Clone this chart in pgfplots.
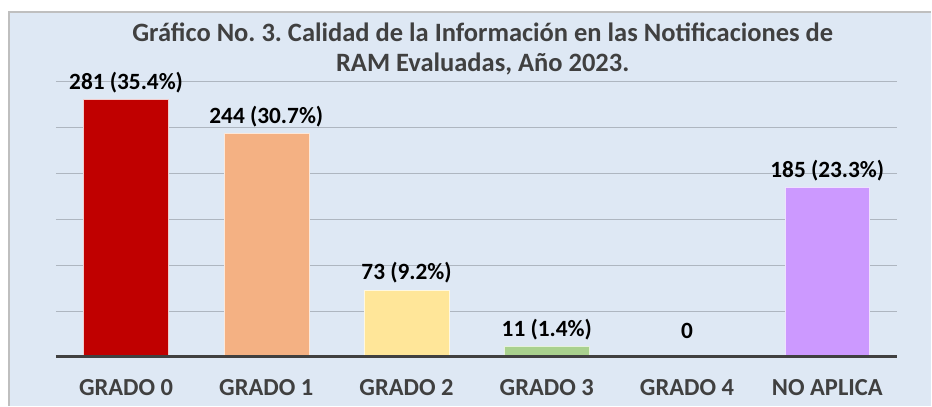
\documentclass[border=0pt]{standalone}
\usepackage{pgfplots}
\pgfplotsset{compat=1.18}
\usepackage{fontspec}
\setmainfont{Carlito}
\frenchspacing
\definecolor{bg}{HTML}{DEE8F4}
\definecolor{bordc}{HTML}{BFBFBF}
\definecolor{gridc}{HTML}{AEB6C0}
\definecolor{axisc}{HTML}{404040}
\definecolor{labc}{HTML}{404040}
\definecolor{c0}{HTML}{C00000}
\definecolor{c1}{HTML}{F4B183}
\definecolor{c2}{HTML}{FFE699}
\definecolor{c3}{HTML}{A9D18E}
\definecolor{c5}{HTML}{CC99FF}
\begin{document}
\begin{tikzpicture}[x=1pt,y=1pt]
\fill[white] (0,0) rectangle (932,406);
\fill[bg] (9,0) rectangle (932,394);
\draw[bordc, line width=1.2pt] (9,0) -- (9,394) -- (932,394);
\node[font=\fontsize{26.5}{30}\selectfont\bfseries, text=labc, anchor=base] at (483,364) {Gráfico No. 3. Calidad de la Información en las Notificaciones de};
\node[font=\fontsize{26.5}{30}\selectfont\bfseries, text=labc, anchor=base] at (483,334) {RAM Evaluadas, Año 2023.};
\begin{axis}[
  at={(56pt,49pt)}, anchor=south west,
  scale only axis, width=842pt, height=275pt,
  xmin=-0.5, xmax=5.5, ymin=0, ymax=300,
  xtick={0,1,2,3,4,5},
  xticklabels={GRADO 0,GRADO 1,GRADO 2,GRADO 3,GRADO 4,NO APLICA},
  ytick={0,50,100,150,200,250,300}, yticklabels={},
  ymajorgrids, grid style={gridc, line width=0.9pt},
  axis line style={draw=none},
  major tick length=0pt,
  xticklabel style={font=\fontsize{24.5}{28}\selectfont\bfseries, text=labc, anchor=base, inner sep=0pt, yshift=-39pt},
  ybar, bar width=85pt, bar shift=0pt,
  nodes near coords, point meta=explicit symbolic,
  every node near coord/.append style={font=\fontsize{23.3}{28}\selectfont\bfseries, text=black, anchor=base, inner sep=0pt, yshift=10pt},
  clip=false,
]
\addplot[fill=c0, draw=white!80!c0, line width=0.6pt] coordinates {(0,281) [281 (35.4\%)]};
\addplot[fill=c1, draw=white!70!c1, line width=0.6pt] coordinates {(1,244) [244 (30.7\%)]};
\addplot[fill=c2, draw=white!70!c2, line width=0.6pt] coordinates {(2,73) [73 (9.2\%)]};
\addplot[fill=c3, draw=white!70!c3, line width=0.6pt] coordinates {(3,11) [11 (1.4\%)]};
\addplot[fill=none, draw=none, every node near coord/.append style={yshift=8pt}] coordinates {(4,0) [0]};
\addplot[fill=c5, draw=white!70!c5, line width=0.6pt] coordinates {(5,185) [185 (23.3\%)]};
\draw[axisc, line width=2.6pt] (axis cs:-0.5,0) -- (axis cs:5.5,0);
\end{axis}
\end{tikzpicture}
\end{document}
